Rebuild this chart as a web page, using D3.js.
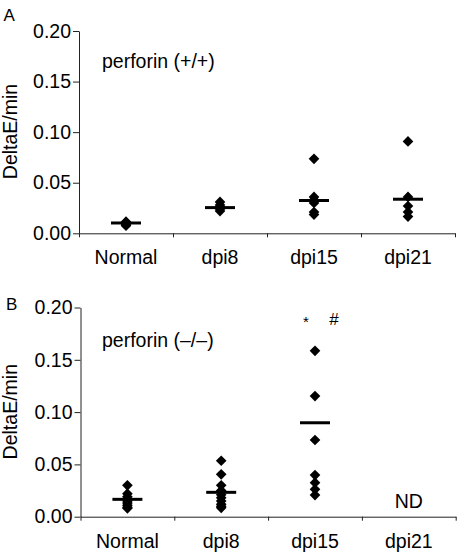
<!DOCTYPE html>
<html>
<head>
<meta charset="utf-8">
<script src="https://cdn.jsdelivr.net/npm/d3@7"></script>
<style>
  html, body { margin: 0; padding: 0; background: #fff; }
  svg { display: block; font-family: "Liberation Sans", Arial, Helvetica, sans-serif; }
</style>
</head>
<body>
<svg id="chart" width="457" height="552"></svg>
<script>
// ---- data ----
const categories = ["Normal", "dpi8", "dpi15", "dpi21"];
const yTicks = [0, 0.05, 0.10, 0.15, 0.20];
const yTickLabels = ["0.00", "0.05", "0.10", "0.15", "0.20"];

// panel A: perforin (+/+)
const wtValues = [
  [0.0115, 0.0100, 0.0085, 0.0075],
  [0.0310, 0.0280, 0.0260, 0.0240, 0.0220],
  [0.0736, 0.0360, 0.0330, 0.0300, 0.0210, 0.0185],
  [0.0908, 0.0360, 0.0270, 0.0210, 0.0165]
];
const wtMeans = [0.0102, 0.0254, 0.0324, 0.0337];

// panel B: perforin (-/-)
const koValues = [
  [0.0300, 0.0220, 0.0190, 0.0170, 0.0150, 0.0130, 0.0110, 0.0090, 0.0080],
  [0.0535, 0.0405, 0.0300, 0.0250, 0.0210, 0.0180, 0.0150, 0.0120, 0.0100, 0.0085],
  [0.1586, 0.1153, 0.0733, 0.0398, 0.0325, 0.0262, 0.0207],
  []
];
const koMeans = [0.0166, 0.0233, 0.0898, null];

const panelLetters = ["A", "B"];
const panelTitles = ["perforin (+/+)", "perforin (\u2013/\u2013)"];
const yTitle = "DeltaE/min";

// ---- drawing ----
const svg = d3.select("#chart");
const FS = 19.5;

const panels = [
  { values: wtValues, means: wtMeans, x0: 79, x1: 455, y0: 233.3, y1: 31,
    letter: { x: 3.5, y: 21 }, title: { x: 102, y: 68 }, titleY: 131.5, nd: false },
  { values: koValues, means: koMeans, x0: 80.5, x1: 455.7, y0: 516.7, y1: 307.5,
    letter: { x: 6, y: 309.5 }, title: { x: 102, y: 347 }, titleY: 411.7, nd: true }
];

panels.forEach((p, pi) => {
  const g = svg.append("g");
  const x = d3.scaleBand().domain(categories).range([p.x0, p.x1]).padding(0);
  const y = d3.scaleLinear().domain([0, 0.2]).range([p.y0, p.y1]);
  const xb = d3.scaleLinear().domain([0, categories.length]).range([p.x0, p.x1]);

  // y axis
  const ya = g.append("g").attr("transform", `translate(${p.x0},0)`)
    .call(d3.axisLeft(y).tickValues(yTicks).tickFormat((d, i) => yTickLabels[i])
      .tickSize(6).tickSizeOuter(0).tickPadding(2));
  ya.selectAll("text").attr("font-size", FS).attr("font-family", null).attr("fill", "#000");
  ya.selectAll("line, path").attr("stroke", "#222");

  // x axis boundary ticks
  const xa = g.append("g").attr("transform", `translate(0,${p.y0})`)
    .call(d3.axisBottom(xb).tickValues(d3.range(categories.length + 1)).tickFormat("")
      .tickSize(4).tickSizeOuter(0));
  xa.selectAll("line, path").attr("stroke", "#222");

  // x labels
  const xl = g.append("g").attr("transform", `translate(0,${p.y0})`)
    .call(d3.axisBottom(x).tickSize(0));
  xl.select(".domain").remove();
  xl.selectAll("text").attr("font-size", FS).attr("font-family", null).attr("fill", "#000")
    .attr("y", 31).attr("dy", 0);

  // y title
  g.append("text").attr("transform", `translate(17,${p.titleY}) rotate(-90)`)
    .attr("text-anchor", "middle").attr("font-size", FS).text(yTitle);

  // panel letter
  g.append("text").attr("x", p.letter.x).attr("y", p.letter.y)
    .attr("font-size", 17).text(panelLetters[pi]);

  // panel title
  g.append("text").attr("x", p.title.x).attr("y", p.title.y)
    .attr("font-size", FS).text(panelTitles[pi]);

  // points
  const pts = [];
  p.values.forEach((arr, ci) => arr.forEach(v => pts.push({ c: categories[ci], v })));
  const diamond = d3.symbol(d3.symbolSquare, 57);
  g.selectAll("path.pt").data(pts).enter().append("path").attr("class", "pt")
    .attr("d", diamond)
    .attr("transform", d => `translate(${x(d.c) + x.bandwidth() / 2},${y(d.v)}) rotate(45)`)
    .attr("fill", "#000");

  // means
  const ms = p.means.map((m, ci) => ({ c: categories[ci], m })).filter(d => d.m != null);
  g.selectAll("line.mean").data(ms).enter().append("line").attr("class", "mean")
    .attr("x1", d => x(d.c) + x.bandwidth() / 2 - 15)
    .attr("x2", d => x(d.c) + x.bandwidth() / 2 + 15)
    .attr("y1", d => y(d.m)).attr("y2", d => y(d.m))
    .attr("stroke", "#000").attr("stroke-width", 3);

  if (p.nd) {
    g.append("text").attr("x", x("dpi21") + x.bandwidth() / 2).attr("y", 508)
      .attr("text-anchor", "middle").attr("font-size", FS).text("ND");
    const cx = x("dpi15") + x.bandwidth() / 2;
    g.append("text").attr("x", cx - 9).attr("y", 327).attr("text-anchor", "middle")
      .attr("font-size", 15).attr("fill", "#000").text("*");
    g.append("text").attr("x", cx + 19).attr("y", 324.5).attr("text-anchor", "middle")
      .attr("font-size", 17).attr("fill", "#000").text("#");
  }
});
</script>
</body>
</html>
